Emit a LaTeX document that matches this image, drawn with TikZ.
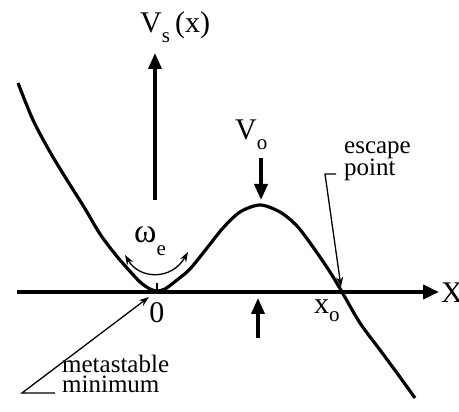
\documentclass[tikz,border=0pt]{standalone}
\usepackage{fontspec}
\setmainfont{Liberation Serif}
\usetikzlibrary{arrows.meta}
\begin{document}
\begin{tikzpicture}[x=1pt,y=-1pt,
  big/.style={font=\fontsize{30}{30}\selectfont, inner sep=0pt},
  note/.style={font=\fontsize{25}{19.5}\selectfont, inner sep=0pt, align=left},
  thick arrow/.style={line width=3.6pt, -{Triangle[width=13pt,length=16pt]}},
  thin arrow/.style={line width=1.3pt, -{Stealth[width=7pt,length=10pt]}},
  curve/.style={line width=3.2pt, line join=round}]
\useasboundingbox (0,0) rectangle (459,412);
% axis
\coordinate (axL) at (17,292);
\coordinate (axR) at (439,292);
\draw[line width=3.8pt, -{Triangle[width=14pt,length=16pt]}] (axL) -- (axR);
\node[big, anchor=base west] (X) at (441,302) {X};
% vertical axis arrow
\coordinate (vb) at (155,200);
\coordinate (vt) at (155,53);
\draw[thick arrow] (vb) -- (vt);
\node[big, anchor=base west] (Vs) at (140,33) {V\raisebox{-0.32em}{\fontsize{21}{21}\selectfont s}\,(x)};
% potential
\draw[curve] plot[smooth, tension=0.5] coordinates {(18,83) (33,120) (50,152) (67,180) (84,207) (100,234) (115,254) (127,268) (140,282) (150,289) (157,291) (165,289) (177,280) (190,269) (207,248) (223,228) (240,212) (260,205) (280,212) (297,226) (313,247) (330,272) (342,292) (360,323) (380,350) (397,373) (415,398)};
% tick at 0
\coordinate (t0) at (157,292);
\coordinate (t1) at (157,283);
\draw[line width=2pt] (t0) -- (t1);
\node[big, anchor=base] (zero) at (157,323) {0};
% omega_e
\node[big, anchor=base west] (om) at (134,243) {{\fontsize{34}{34}\selectfont ω}\raisebox{-0.42em}{\fontsize{21}{21}\selectfont e}};
\coordinate (omL) at (125,255);
\coordinate (omR) at (188,252);
\draw[line width=1.3pt, {Stealth[width=7pt,length=10pt]}-{Stealth[width=7pt,length=10pt]}] (omL) .. controls (140,280) and (172,280) .. (omR);
% V_o
\node[big, anchor=base west] (Vo) at (235,140) {V\raisebox{-0.32em}{\fontsize{21}{21}\selectfont o}};
\coordinate (d0) at (261,158);
\coordinate (d1) at (261,200);
\draw[thick arrow] (d0) -- (d1);
\coordinate (u0) at (258,338);
\coordinate (u1) at (258,298);
\draw[thick arrow] (u0) -- (u1);
% x_o
\node[big, anchor=base west] (xo) at (314,313) {x\raisebox{-0.3em}{\fontsize{21}{21}\selectfont o}};
% escape point
\node[note, anchor=base west] (esc) at (344,176) {escape\\point};
\coordinate (e0) at (336,174);
\coordinate (e1) at (325,174);
\coordinate (e2) at (341,287);
\draw[thin arrow] (e0) -- (e1) -- (e2);
% metastable minimum
\node[note, anchor=base west] (meta) at (62,392) {metastable\\minimum};
\coordinate (m0) at (55,393);
\coordinate (m1) at (22,393);
\coordinate (m2) at (149,297);
\draw[thin arrow] (m0) -- (m1) -- (m2);
\end{tikzpicture}
\end{document}
